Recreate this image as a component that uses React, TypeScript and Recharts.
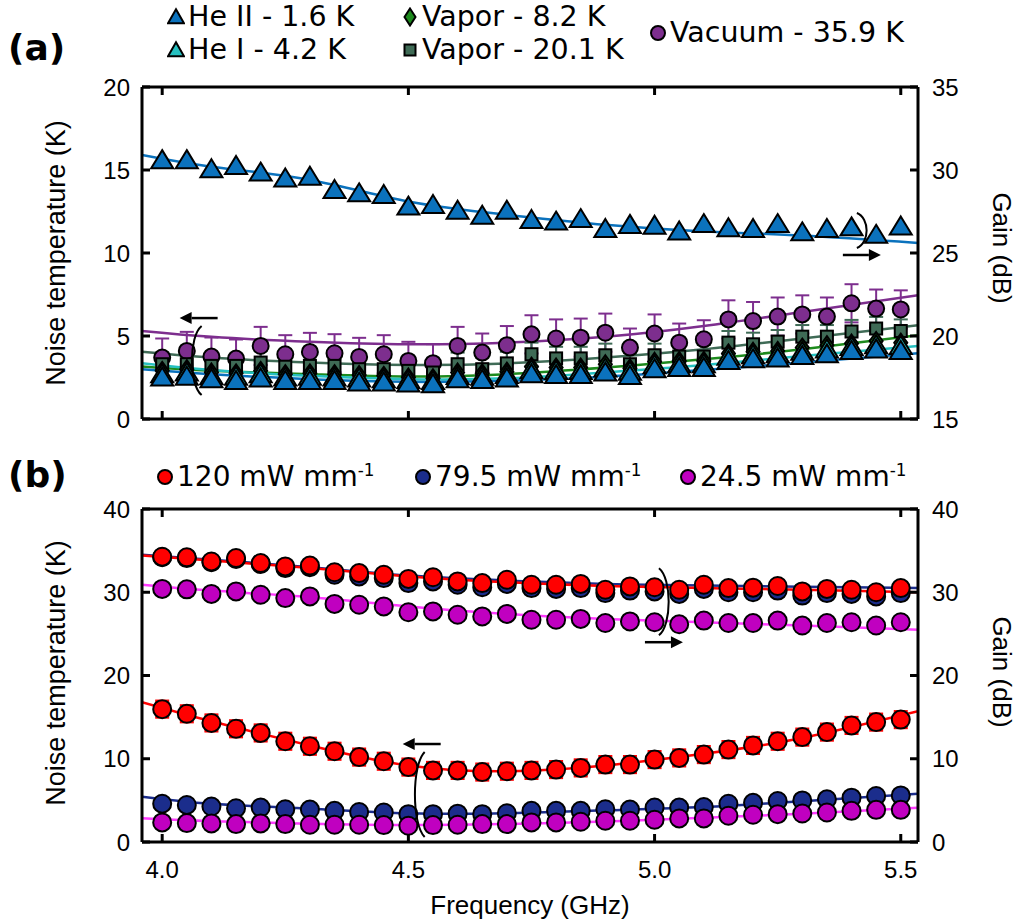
import React from 'react';
import {
  ComposedChart, Scatter, Line, XAxis, YAxis, ErrorBar, ReferenceDot,
} from 'recharts';

// ---------- data ----------
const FREQ = [4.0, 4.05, 4.1, 4.15, 4.2, 4.25, 4.3, 4.35, 4.4, 4.45, 4.5, 4.55, 4.6, 4.65, 4.7, 4.75,
  4.8, 4.85, 4.9, 4.95, 5.0, 5.05, 5.1, 5.15, 5.2, 5.25, 5.3, 5.35, 5.4, 5.45, 5.5];
const FIT_X = [3.959, 4.1, 4.3, 4.5, 4.7, 4.9, 5.1, 5.3, 5.535];
const X_TICKS = [4.0, 4.5, 5.0, 5.5];
const A_LEFT_TICKS = [0, 5, 10, 15, 20];
const A_RIGHT_TICKS = [15, 20, 25, 30, 35];
const B_TICKS = [0, 10, 20, 30, 40];

// panel (a) gain (right axis)
const heIIGain = [30.6, 30.6, 30.05, 30.25, 29.85, 29.5, 29.6, 28.8, 28.6, 28.5, 27.8, 27.9, 27.55, 27.25, 27.55, 27.0,
  26.9, 27.05, 26.45, 26.7, 26.65, 26.3, 26.75, 26.5, 26.45, 26.75, 26.25, 26.45, 26.55, 26.1, 26.6];
const heIIGainFit = [30.9, 30.2, 29.4, 28.1, 27.3, 26.7, 26.3, 26.05, 25.6];

// panel (a) noise temperature (left axis)
const heIINoise = [2.5, 2.55, 2.4, 2.3, 2.45, 2.3, 2.3, 2.3, 2.2, 2.2, 2.15, 2.1, 2.4, 2.35, 2.45, 2.7,
  2.65, 2.65, 2.8, 2.6, 3.0, 3.08, 3.08, 3.5, 3.6, 3.65, 3.8, 3.9, 4.1, 4.2, 4.1];
const heINoise = [2.7, 2.8, 2.6, 2.55, 2.7, 2.5, 2.55, 2.5, 2.45, 2.4, 2.35, 2.3, 2.6, 2.55, 2.65, 2.95,
  2.9, 2.9, 3.05, 2.85, 3.25, 3.3, 3.3, 3.75, 3.85, 3.9, 4.05, 4.2, 4.35, 4.45, 4.4];
const vapor8Noise = [2.9, 3.0, 2.8, 2.75, 2.9, 2.7, 2.75, 2.7, 2.65, 2.6, 2.5, 2.45, 2.8, 2.75, 2.85, 3.15,
  3.1, 3.1, 3.3, 3.05, 3.45, 3.5, 3.5, 3.95, 4.05, 4.1, 4.3, 4.45, 4.55, 4.7, 4.6];
const vapor20Noise = [3.3, 3.3, 3.2, 3.2, 3.4, 3.15, 3.2, 3.2, 3.0, 3.0, 2.9, 2.8, 3.3, 3.0, 3.35, 3.9,
  3.65, 3.65, 3.84, 3.3, 3.84, 3.76, 3.76, 4.6, 4.5, 4.66, 4.96, 4.96, 5.27, 5.45, 5.3];
const vapor20Err = 0.7;
const vacuumNoise = [3.7, 4.1, 3.76, 3.64, 4.4, 3.9, 4.04, 3.96, 3.74, 3.9, 3.5, 3.36, 4.4, 4.0, 4.45, 5.1,
  4.85, 4.9, 5.2, 4.3, 5.15, 4.6, 4.8, 6.0, 5.9, 6.17, 6.3, 6.17, 6.97, 6.65, 6.6];
const vacuumErr = 1.15;

const heIINoiseFit = [3.0, 2.7, 2.4, 2.24, 2.3, 2.55, 2.95, 3.4, 3.96];
const heINoiseFit = [3.36, 2.95, 2.6, 2.4, 2.45, 2.8, 3.25, 3.8, 4.4];
const vapor8NoiseFit = [3.16, 2.9, 2.7, 2.56, 2.7, 3.1, 3.6, 4.2, 5.05];
const vapor20NoiseFit = [4.05, 3.7, 3.4, 3.25, 3.35, 3.7, 4.2, 4.85, 5.65];
const vacuumNoiseFit = [5.3, 4.95, 4.65, 4.5, 4.6, 4.95, 5.6, 6.45, 7.45];

// panel (b) gain (right axis)
const g120 = [34.27, 34.2, 33.7, 34.1, 33.5, 33.1, 33.2, 32.4, 32.3, 32.1, 31.6, 31.8, 31.3, 31.1, 31.5, 30.9,
  30.9, 31.0, 30.3, 30.7, 30.6, 30.3, 30.9, 30.5, 30.55, 30.75, 30.1, 30.4, 30.3, 30.0, 30.5];
const g795 = [34.2, 34.1, 33.6, 34.0, 33.4, 32.9, 33.0, 32.1, 31.9, 31.7, 31.1, 31.3, 30.9, 30.6, 31.0, 30.5,
  30.4, 30.5, 29.9, 30.2, 30.1, 29.8, 30.4, 30.0, 30.0, 30.2, 29.6, 29.9, 29.8, 29.5, 29.9];
const g245 = [30.4, 30.35, 29.8, 30.1, 29.7, 29.3, 29.5, 28.6, 28.5, 28.3, 27.6, 27.7, 27.3, 27.1, 27.4, 26.7,
  26.7, 26.8, 26.3, 26.5, 26.4, 26.15, 26.6, 26.3, 26.3, 26.6, 26.0, 26.3, 26.4, 26.0, 26.4];
const g120Fit = [34.4, 33.8, 32.9, 31.9, 31.2, 30.75, 30.5, 30.3, 30.0];
const g795Fit = [34.5, 33.9, 33.0, 32.0, 31.4, 31.0, 30.8, 30.65, 30.5];
const g245Fit = [30.9, 30.2, 29.4, 28.3, 27.4, 26.8, 26.4, 26.0, 25.5];

// panel (b) noise (left axis)
const n120 = [15.96, 15.4, 14.3, 13.6, 13.1, 12.1, 11.5, 10.9, 10.2, 9.7, 9.0, 8.6, 8.6, 8.4, 8.5, 8.6,
  8.7, 8.9, 9.3, 9.3, 9.9, 10.1, 10.5, 11.1, 11.6, 12.1, 12.6, 13.2, 14.0, 14.4, 14.7];
const n120Err = 1.0;
const n795 = [4.6, 4.45, 4.26, 4.06, 4.14, 3.94, 3.9, 3.74, 3.6, 3.54, 3.34, 3.34, 3.4, 3.34, 3.45, 3.74,
  3.74, 3.74, 3.94, 3.9, 4.14, 4.14, 4.2, 4.6, 4.7, 4.93, 5.0, 5.13, 5.33, 5.53, 5.6];
const n245 = [2.35, 2.27, 2.23, 2.15, 2.23, 2.15, 2.07, 2.07, 2.07, 2.03, 1.95, 2.03, 2.07, 2.15, 2.15, 2.35,
  2.35, 2.43, 2.55, 2.55, 2.67, 2.83, 2.83, 3.15, 3.27, 3.34, 3.42, 3.54, 3.74, 3.86, 3.86];
const n120Fit = [16.8, 14.5, 11.6, 9.2, 8.5, 9.2, 10.6, 12.5, 15.7];
const n795Fit = [5.45, 4.6, 4.0, 3.45, 3.45, 3.8, 4.2, 4.9, 5.8];
const n245Fit = [2.85, 2.5, 2.2, 2.05, 2.15, 2.45, 2.9, 3.4, 4.1];

// annotation anchors (data coordinates)
const annA = { left: { x: 4.074, y: 6.08 }, right: { x: 5.421, y: 24.88 } };
const annB = { left: { x: 4.527, y: 11.77 }, right: { x: 5.019, y: 24.0 } };

// ---------- helpers ----------
const pts = (ys: number[], err?: number) => FREQ.map((x, i) => ({ x, y: ys[i], err: err ?? 0 }));
const fit = (ys: number[]) => FIT_X.map((x, i) => ({ x, y: ys[i] }));

const C = {
  he2: '#0b72bd', he1: '#26c0c0', v8: '#1d8a1d', v20: '#3f6b56', vac: '#7d2e8e',
  red: '#ff0000', navy: '#1b2d8c', mag: '#c000c0', magLine: '#ff3cff',
};

const FONT = "'Liberation Sans', Arial, sans-serif";
const LFONT = "'DejaVu Sans', Verdana, sans-serif";

const triShape = (fill: string, w = 22, h = 18) => (p: any) => (
  <path d={`M${p.cx},${p.cy - h * 0.55} L${p.cx + w / 2},${p.cy + h * 0.45} L${p.cx - w / 2},${p.cy + h * 0.45} Z`}
    fill={fill} stroke="#000" strokeWidth={2} strokeLinejoin="miter" />
);
const diaShape = (fill: string, w = 13, h = 18) => (p: any) => (
  <path d={`M${p.cx},${p.cy - h / 2} L${p.cx + w / 2},${p.cy} L${p.cx},${p.cy + h / 2} L${p.cx - w / 2},${p.cy} Z`}
    fill={fill} stroke="#000" strokeWidth={2} />
);
const sqShape = (fill: string, s = 12) => (p: any) => (
  <rect x={p.cx - s / 2} y={p.cy - s / 2} width={s} height={s} fill={fill} stroke="#000" strokeWidth={2} />
);
const circShape = (fill: string, r = 8.5) => (p: any) => (
  <circle cx={p.cx} cy={p.cy} r={r} fill={fill} stroke="#000" strokeWidth={2} />
);

const arrow = (dir: 'left' | 'right', bracket: 'up' | 'down', bracketDir: 'open' | 'close', bLen: number) => (p: any) => {
  const { cx, cy } = p;
  const half = 19;
  const tip = dir === 'left' ? cx - half : cx + half;
  const tail = dir === 'left' ? cx + half : cx - half;
  const back = dir === 'left' ? tip + 12 : tip - 12;
  const bx = cx - 1;
  const y1 = bracket === 'down' ? cy + 8 : cy - 7 - bLen;
  const y2 = bracket === 'down' ? cy + 8 + bLen : cy - 7;
  const bulge = bracketDir === 'open' ? -9 : 9;
  const hook = bracketDir === 'open' ? 4 : -4;
  return (
    <g>
      <line x1={tail} y1={cy} x2={back} y2={cy} stroke="#000" strokeWidth={2.5} />
      <path d={`M${tip},${cy} L${back},${cy - 6} L${back},${cy + 6} Z`} fill="#000" />
      <path d={`M${bx + hook},${y1} C${bx + bulge},${y1 + bLen * 0.15} ${bx + bulge},${y2 - bLen * 0.15} ${bx + hook},${y2}`}
        fill="none" stroke="#000" strokeWidth={2} />
    </g>
  );
};

const tickStyle = { fontSize: 24, fill: '#000', fontFamily: FONT };
const axisLine = { stroke: '#000', strokeWidth: 3 };
const tickLine = { stroke: '#000', strokeWidth: 3 };
const fmtX = (v: number) => v.toFixed(1);
const blank = () => '';

function PanelA() {
  return (
    <ComposedChart width={1019} height={450} margin={{ top: 77, right: 41, bottom: 21, left: 82 }}>
      <XAxis xAxisId="b" dataKey="x" type="number" domain={[3.959, 5.535]} ticks={X_TICKS} height={10}
        axisLine={axisLine} tickLine={tickLine} tickSize={-8} tickFormatter={blank} allowDataOverflow />
      <XAxis xAxisId="t" orientation="top" dataKey="x" type="number" domain={[3.959, 5.535]} ticks={X_TICKS} height={10}
        axisLine={axisLine} tickLine={tickLine} tickSize={-8} tickFormatter={blank} allowDataOverflow />
      <YAxis yAxisId="L" type="number" domain={[0, 20]} ticks={A_LEFT_TICKS} width={60} axisLine={axisLine}
        tickLine={tickLine} tickSize={-8} tickMargin={20} tick={tickStyle} allowDataOverflow />
      <YAxis yAxisId="R" orientation="right" type="number" domain={[15, 35]} ticks={A_RIGHT_TICKS} width={60}
        axisLine={axisLine} tickLine={tickLine} tickSize={-8} tickMargin={22} tick={{ ...tickStyle, textAnchor: 'start' }} allowDataOverflow />

      <Line xAxisId="b" yAxisId="L" data={fit(vacuumNoiseFit)} dataKey="y" type="natural" stroke={C.vac} strokeWidth={2.5} dot={false} activeDot={false} isAnimationActive={false} />
      <Line xAxisId="b" yAxisId="L" data={fit(vapor20NoiseFit)} dataKey="y" type="natural" stroke={C.v20} strokeWidth={2.5} dot={false} activeDot={false} isAnimationActive={false} />
      <Line xAxisId="b" yAxisId="L" data={fit(vapor8NoiseFit)} dataKey="y" type="natural" stroke={C.v8} strokeWidth={2.5} dot={false} activeDot={false} isAnimationActive={false} />
      <Line xAxisId="b" yAxisId="L" data={fit(heINoiseFit)} dataKey="y" type="natural" stroke={C.he1} strokeWidth={2.5} dot={false} activeDot={false} isAnimationActive={false} />
      <Line xAxisId="b" yAxisId="L" data={fit(heIINoiseFit)} dataKey="y" type="natural" stroke={C.he2} strokeWidth={2.5} dot={false} activeDot={false} isAnimationActive={false} />
      <Line xAxisId="b" yAxisId="R" data={fit(heIIGainFit)} dataKey="y" type="natural" stroke={C.he2} strokeWidth={2.5} dot={false} activeDot={false} isAnimationActive={false} />

      <Scatter xAxisId="b" yAxisId="L" data={pts(vacuumNoise, vacuumErr)} dataKey="y" shape={circShape(C.vac, 8)} isAnimationActive={false}>
        <ErrorBar dataKey="err" direction="y" width={7} stroke={C.vac} strokeWidth={2} />
      </Scatter>
      <Scatter xAxisId="b" yAxisId="L" data={pts(vapor20Noise, vapor20Err)} dataKey="y" shape={sqShape(C.v20)} isAnimationActive={false}>
        <ErrorBar dataKey="err" direction="y" width={7} stroke={C.v20} strokeWidth={2} />
      </Scatter>
      <Scatter xAxisId="b" yAxisId="L" data={pts(vapor8Noise)} dataKey="y" shape={diaShape(C.v8)} isAnimationActive={false} />
      <Scatter xAxisId="b" yAxisId="L" data={pts(heINoise)} dataKey="y" shape={triShape(C.he1)} isAnimationActive={false} />
      <Scatter xAxisId="b" yAxisId="L" data={pts(heIINoise)} dataKey="y" shape={triShape(C.he2)} isAnimationActive={false} />
      <Scatter xAxisId="b" yAxisId="R" data={pts(heIIGain)} dataKey="y" shape={triShape(C.he2)} isAnimationActive={false} />

      <ReferenceDot xAxisId="b" yAxisId="L" x={annA.left.x} y={annA.left.y} r={0} shape={arrow('left', 'down', 'open', 69)} />
      <ReferenceDot xAxisId="b" yAxisId="R" x={annA.right.x} y={annA.right.y} r={0} shape={arrow('right', 'up', 'close', 35)} />
    </ComposedChart>
  );
}

function PanelB() {
  return (
    <ComposedChart width={1019} height={474} margin={{ top: 49, right: 41, bottom: 22, left: 82 }}>
      <XAxis xAxisId="b" dataKey="x" type="number" domain={[3.959, 5.535]} ticks={X_TICKS} height={60}
        axisLine={axisLine} tickLine={tickLine} tickSize={-8} tickMargin={27} tickFormatter={fmtX} tick={tickStyle} allowDataOverflow />
      <XAxis xAxisId="t" orientation="top" dataKey="x" type="number" domain={[3.959, 5.535]} ticks={X_TICKS} height={10}
        axisLine={axisLine} tickLine={tickLine} tickSize={-8} tickFormatter={blank} allowDataOverflow />
      <YAxis yAxisId="L" type="number" domain={[0, 40]} ticks={B_TICKS} width={60} axisLine={axisLine}
        tickLine={tickLine} tickSize={-8} tickMargin={20} tick={tickStyle} allowDataOverflow />
      <YAxis yAxisId="R" orientation="right" type="number" domain={[0, 40]} ticks={B_TICKS} width={60}
        axisLine={axisLine} tickLine={tickLine} tickSize={-8} tickMargin={22} tick={{ ...tickStyle, textAnchor: 'start' }} allowDataOverflow />

      <Line xAxisId="b" yAxisId="R" data={fit(g795Fit)} dataKey="y" type="natural" stroke={C.navy} strokeWidth={2.5} dot={false} activeDot={false} isAnimationActive={false} />
      <Line xAxisId="b" yAxisId="R" data={fit(g120Fit)} dataKey="y" type="natural" stroke={C.red} strokeWidth={2.5} dot={false} activeDot={false} isAnimationActive={false} />
      <Line xAxisId="b" yAxisId="R" data={fit(g245Fit)} dataKey="y" type="natural" stroke={C.magLine} strokeWidth={2.5} dot={false} activeDot={false} isAnimationActive={false} />
      <Line xAxisId="b" yAxisId="L" data={fit(n795Fit)} dataKey="y" type="natural" stroke={C.navy} strokeWidth={2.5} dot={false} activeDot={false} isAnimationActive={false} />
      <Line xAxisId="b" yAxisId="L" data={fit(n245Fit)} dataKey="y" type="natural" stroke={C.magLine} strokeWidth={2.5} dot={false} activeDot={false} isAnimationActive={false} />
      <Line xAxisId="b" yAxisId="L" data={fit(n120Fit)} dataKey="y" type="natural" stroke={C.red} strokeWidth={2.5} dot={false} activeDot={false} isAnimationActive={false} />

      <Scatter xAxisId="b" yAxisId="R" data={pts(g795)} dataKey="y" shape={circShape(C.navy, 9)} isAnimationActive={false} />
      <Scatter xAxisId="b" yAxisId="R" data={pts(g120)} dataKey="y" shape={circShape(C.red, 9)} isAnimationActive={false} />
      <Scatter xAxisId="b" yAxisId="R" data={pts(g245)} dataKey="y" shape={circShape(C.mag, 9)} isAnimationActive={false} />
      <Scatter xAxisId="b" yAxisId="L" data={pts(n795)} dataKey="y" shape={circShape(C.navy, 9)} isAnimationActive={false} />
      <Scatter xAxisId="b" yAxisId="L" data={pts(n245)} dataKey="y" shape={circShape(C.mag, 9)} isAnimationActive={false} />
      <Scatter xAxisId="b" yAxisId="L" data={pts(n120, n120Err)} dataKey="y" shape={circShape(C.red, 9)} isAnimationActive={false}>
        <ErrorBar dataKey="err" direction="y" width={7} stroke={C.red} strokeWidth={2.5} />
      </Scatter>

      <ReferenceDot xAxisId="b" yAxisId="L" x={annB.left.x} y={annB.left.y} r={0} shape={arrow('left', 'down', 'open', 85)} />
      <ReferenceDot xAxisId="b" yAxisId="R" x={annB.right.x} y={annB.right.y} r={0} shape={arrow('right', 'up', 'close', 67)} />
    </ComposedChart>
  );
}

const LegendMarker = ({ kind, fill }: { kind: string; fill: string }) => {
  const p = { cx: 9, cy: 10 };
  let el: any;
  if (kind === 'tri') el = triShape(fill, 16, 14)(p);
  else if (kind === 'dia') el = diaShape(fill, 11, 17)(p);
  else if (kind === 'sq') el = sqShape(fill, 11)(p);
  else el = circShape(fill, 7)(p);
  return <svg width={18} height={20} style={{ display: 'block' }}>{el}</svg>;
};

const LegItem = ({ x, y, kind, fill, label, font, size }: any) => (
  <div style={{ position: 'absolute', left: x, top: y - 16, height: 32, display: 'flex', alignItems: 'center', whiteSpace: 'nowrap' }}>
    <LegendMarker kind={kind} fill={fill} />
    <span style={{ fontFamily: font, fontSize: size, color: '#000', marginLeft: 3, lineHeight: '32px' }}>{label}</span>
  </div>
);

const PowerLabel = ({ v }: { v: string }) => (
  <>{v} mW mm<sup style={{ fontSize: '0.6em', verticalAlign: 'super', lineHeight: 0 }}>-1</sup></>
);

export default function App() {
  return (
    <div style={{ position: 'absolute', left: 0, top: 0, width: 1019, height: 924, background: '#fff', overflow: 'hidden' }}>
      <div style={{ position: 'absolute', left: 0, top: 0 }}><PanelA /></div>
      <div style={{ position: 'absolute', left: 0, top: 450 }}><PanelB /></div>

      <svg width={1019} height={924} style={{ position: 'absolute', left: 0, top: 0, pointerEvents: 'none' }}>
        <text x={8} y={60} fontFamily={LFONT} fontWeight="bold" fontSize={36} fill="#000">(a)</text>
        <text x={8} y={487} fontFamily={LFONT} fontWeight="bold" fontSize={36} fill="#000">(b)</text>
        <text transform="translate(65,253) rotate(-90)" textAnchor="middle" fontFamily={FONT} fontSize={27} fill="#000">Noise temperature (K)</text>
        <text transform="translate(65,673) rotate(-90)" textAnchor="middle" fontFamily={FONT} fontSize={27} fill="#000">Noise temperature (K)</text>
        <text transform="translate(993,248) rotate(90)" textAnchor="middle" fontFamily={FONT} fontSize={26} fill="#000">Gain (dB)</text>
        <text transform="translate(993,672) rotate(90)" textAnchor="middle" fontFamily={FONT} fontSize={26} fill="#000">Gain (dB)</text>
        <text x={530} y={914} textAnchor="middle" fontFamily={FONT} fontSize={26} fill="#000">Frequency (GHz)</text>
      </svg>

      <LegItem x={167} y={17} kind="tri" fill={C.he2} label="He II - 1.6 K" font={LFONT} size={28.5} />
      <LegItem x={167} y={50} kind="tri" fill={C.he1} label="He I - 4.2 K" font={LFONT} size={28.5} />
      <LegItem x={401} y={17} kind="dia" fill={C.v8} label="Vapor - 8.2 K" font={LFONT} size={28.5} />
      <LegItem x={401} y={50} kind="sq" fill={C.v20} label="Vapor - 20.1 K" font={LFONT} size={28.5} />
      <LegItem x={649} y={33} kind="circ" fill={C.vac} label="Vacuum - 35.9 K" font={LFONT} size={28.5} />

      <LegItem x={156} y={477} kind="circ" fill={C.red} label={<PowerLabel v="120" />} font={LFONT} size={28} />
      <LegItem x={414} y={477} kind="circ" fill={C.navy} label={<PowerLabel v="79.5" />} font={LFONT} size={28} />
      <LegItem x={679} y={477} kind="circ" fill={C.mag} label={<PowerLabel v="24.5" />} font={LFONT} size={28} />
    </div>
  );
}
